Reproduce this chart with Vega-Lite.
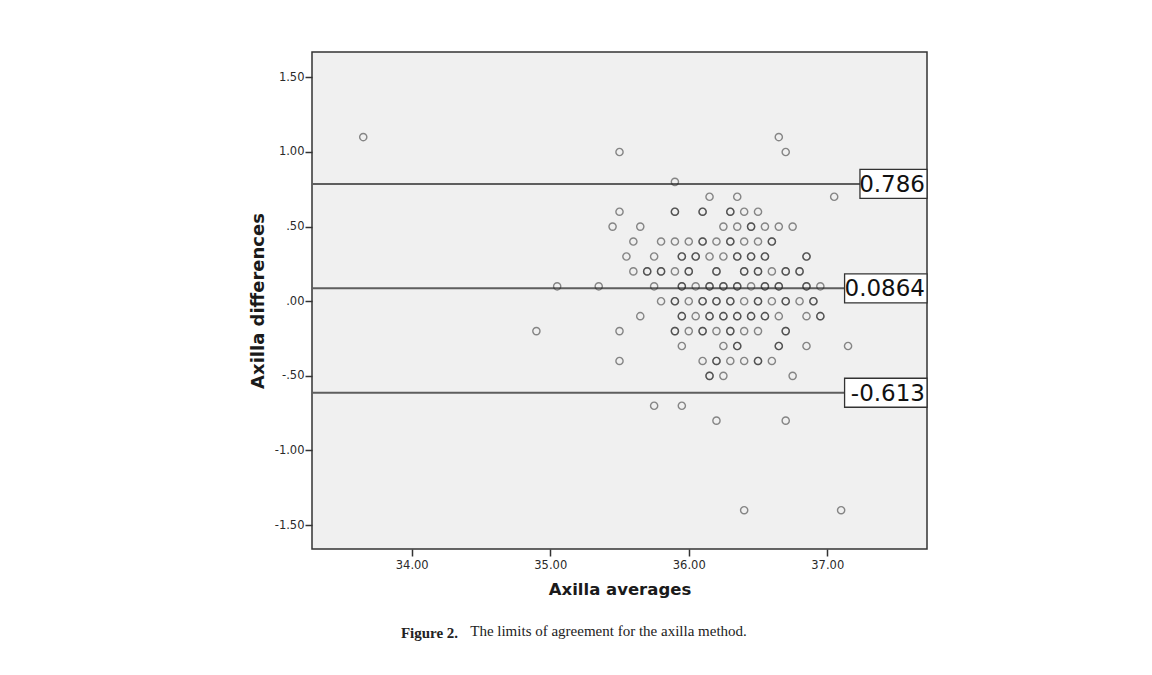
{
  "$schema": "https://vega.github.io/schema/vega-lite/v6.json",
  "width": 615,
  "height": 497,
  "autosize": {"type": "none"},
  "padding": {"left": 312, "top": 52, "right": 225, "bottom": 126},
  "background": "white",
  "config": {
    "view": {"fill": "#f0f0f0", "stroke": "#333333", "strokeWidth": 1.5},
    "axis": {
      "labelFont": "DejaVu Sans",
      "labelFontSize": 11.5,
      "labelColor": "#2a2a2a",
      "titleFont": "DejaVu Sans",
      "titleFontWeight": "bold",
      "titleFontSize": 16.5,
      "titleColor": "#1a1a1a",
      "tickColor": "#333333",
      "tickWidth": 1.5,
      "tickSize": 7,
      "domain": false,
      "grid": false
    }
  },
  "title": {
    "text": "Figure 2.",
    "subtitle": "The limits of agreement for the axilla method.",
    "orient": "bottom",
    "anchor": "middle",
    "font": "Liberation Serif",
    "fontSize": 15,
    "fontWeight": "bold",
    "color": "#222222",
    "subtitleFont": "Liberation Serif",
    "subtitleFontSize": 15,
    "subtitleFontWeight": "normal",
    "subtitleColor": "#222222",
    "subtitlePadding": -17,
    "offset": 28,
    "dx": -11,
    "encode": {"title": {"update": {"dx": {"value": -190}}}}
  },
  "datasets": {
    "points": [
      {"avg": 33.65, "diff": 1.1}, {"avg": 36.65, "diff": 1.1},
      {"avg": 35.50, "diff": 1.0}, {"avg": 36.70, "diff": 1.0},
      {"avg": 35.90, "diff": 0.8},
      {"avg": 36.15, "diff": 0.7}, {"avg": 36.35, "diff": 0.7}, {"avg": 37.05, "diff": 0.7},
      {"avg": 35.50, "diff": 0.6}, {"avg": 35.90, "diff": 0.6}, {"avg": 35.90, "diff": 0.6}, {"avg": 36.10, "diff": 0.6}, {"avg": 36.10, "diff": 0.6}, {"avg": 36.30, "diff": 0.6}, {"avg": 36.30, "diff": 0.6}, {"avg": 36.40, "diff": 0.6}, {"avg": 36.50, "diff": 0.6},
      {"avg": 35.45, "diff": 0.5}, {"avg": 35.65, "diff": 0.5}, {"avg": 36.25, "diff": 0.5}, {"avg": 36.35, "diff": 0.5}, {"avg": 36.45, "diff": 0.5}, {"avg": 36.45, "diff": 0.5}, {"avg": 36.55, "diff": 0.5}, {"avg": 36.65, "diff": 0.5}, {"avg": 36.75, "diff": 0.5},
      {"avg": 35.60, "diff": 0.4}, {"avg": 35.80, "diff": 0.4}, {"avg": 35.90, "diff": 0.4}, {"avg": 36.00, "diff": 0.4}, {"avg": 36.10, "diff": 0.4}, {"avg": 36.10, "diff": 0.4}, {"avg": 36.20, "diff": 0.4}, {"avg": 36.30, "diff": 0.4}, {"avg": 36.30, "diff": 0.4}, {"avg": 36.40, "diff": 0.4}, {"avg": 36.50, "diff": 0.4}, {"avg": 36.60, "diff": 0.4}, {"avg": 36.60, "diff": 0.4},
      {"avg": 35.55, "diff": 0.3}, {"avg": 35.75, "diff": 0.3}, {"avg": 35.95, "diff": 0.3}, {"avg": 35.95, "diff": 0.3}, {"avg": 36.05, "diff": 0.3}, {"avg": 36.05, "diff": 0.3}, {"avg": 36.15, "diff": 0.3}, {"avg": 36.25, "diff": 0.3}, {"avg": 36.35, "diff": 0.3}, {"avg": 36.35, "diff": 0.3}, {"avg": 36.45, "diff": 0.3}, {"avg": 36.45, "diff": 0.3}, {"avg": 36.55, "diff": 0.3}, {"avg": 36.55, "diff": 0.3}, {"avg": 36.85, "diff": 0.3}, {"avg": 36.85, "diff": 0.3},
      {"avg": 35.60, "diff": 0.2}, {"avg": 35.70, "diff": 0.2}, {"avg": 35.70, "diff": 0.2}, {"avg": 35.80, "diff": 0.2}, {"avg": 35.80, "diff": 0.2}, {"avg": 35.90, "diff": 0.2}, {"avg": 36.00, "diff": 0.2}, {"avg": 36.00, "diff": 0.2}, {"avg": 36.20, "diff": 0.2}, {"avg": 36.20, "diff": 0.2}, {"avg": 36.40, "diff": 0.2}, {"avg": 36.40, "diff": 0.2}, {"avg": 36.50, "diff": 0.2}, {"avg": 36.50, "diff": 0.2}, {"avg": 36.60, "diff": 0.2}, {"avg": 36.70, "diff": 0.2}, {"avg": 36.70, "diff": 0.2}, {"avg": 36.80, "diff": 0.2}, {"avg": 36.80, "diff": 0.2},
      {"avg": 35.05, "diff": 0.1}, {"avg": 35.35, "diff": 0.1}, {"avg": 35.75, "diff": 0.1}, {"avg": 35.95, "diff": 0.1}, {"avg": 35.95, "diff": 0.1}, {"avg": 36.05, "diff": 0.1}, {"avg": 36.15, "diff": 0.1}, {"avg": 36.15, "diff": 0.1}, {"avg": 36.25, "diff": 0.1}, {"avg": 36.25, "diff": 0.1}, {"avg": 36.35, "diff": 0.1}, {"avg": 36.35, "diff": 0.1}, {"avg": 36.45, "diff": 0.1}, {"avg": 36.55, "diff": 0.1}, {"avg": 36.55, "diff": 0.1}, {"avg": 36.65, "diff": 0.1}, {"avg": 36.65, "diff": 0.1}, {"avg": 36.85, "diff": 0.1}, {"avg": 36.85, "diff": 0.1}, {"avg": 36.95, "diff": 0.1},
      {"avg": 35.80, "diff": 0.0}, {"avg": 35.90, "diff": 0.0}, {"avg": 35.90, "diff": 0.0}, {"avg": 36.00, "diff": 0.0}, {"avg": 36.10, "diff": 0.0}, {"avg": 36.10, "diff": 0.0}, {"avg": 36.20, "diff": 0.0}, {"avg": 36.20, "diff": 0.0}, {"avg": 36.30, "diff": 0.0}, {"avg": 36.30, "diff": 0.0}, {"avg": 36.40, "diff": 0.0}, {"avg": 36.50, "diff": 0.0}, {"avg": 36.50, "diff": 0.0}, {"avg": 36.60, "diff": 0.0}, {"avg": 36.70, "diff": 0.0}, {"avg": 36.70, "diff": 0.0}, {"avg": 36.80, "diff": 0.0}, {"avg": 36.90, "diff": 0.0}, {"avg": 36.90, "diff": 0.0},
      {"avg": 35.65, "diff": -0.1}, {"avg": 35.95, "diff": -0.1}, {"avg": 35.95, "diff": -0.1}, {"avg": 36.05, "diff": -0.1}, {"avg": 36.15, "diff": -0.1}, {"avg": 36.15, "diff": -0.1}, {"avg": 36.25, "diff": -0.1}, {"avg": 36.25, "diff": -0.1}, {"avg": 36.35, "diff": -0.1}, {"avg": 36.35, "diff": -0.1}, {"avg": 36.45, "diff": -0.1}, {"avg": 36.45, "diff": -0.1}, {"avg": 36.55, "diff": -0.1}, {"avg": 36.55, "diff": -0.1}, {"avg": 36.65, "diff": -0.1}, {"avg": 36.85, "diff": -0.1}, {"avg": 36.95, "diff": -0.1}, {"avg": 36.95, "diff": -0.1},
      {"avg": 34.90, "diff": -0.2}, {"avg": 35.50, "diff": -0.2}, {"avg": 35.90, "diff": -0.2}, {"avg": 35.90, "diff": -0.2}, {"avg": 36.00, "diff": -0.2}, {"avg": 36.10, "diff": -0.2}, {"avg": 36.10, "diff": -0.2}, {"avg": 36.20, "diff": -0.2}, {"avg": 36.30, "diff": -0.2}, {"avg": 36.30, "diff": -0.2}, {"avg": 36.40, "diff": -0.2}, {"avg": 36.50, "diff": -0.2}, {"avg": 36.70, "diff": -0.2}, {"avg": 36.70, "diff": -0.2},
      {"avg": 35.95, "diff": -0.3}, {"avg": 36.25, "diff": -0.3}, {"avg": 36.35, "diff": -0.3}, {"avg": 36.35, "diff": -0.3}, {"avg": 36.65, "diff": -0.3}, {"avg": 36.65, "diff": -0.3}, {"avg": 36.85, "diff": -0.3}, {"avg": 37.15, "diff": -0.3},
      {"avg": 35.50, "diff": -0.4}, {"avg": 36.10, "diff": -0.4}, {"avg": 36.20, "diff": -0.4}, {"avg": 36.20, "diff": -0.4}, {"avg": 36.30, "diff": -0.4}, {"avg": 36.40, "diff": -0.4}, {"avg": 36.50, "diff": -0.4}, {"avg": 36.50, "diff": -0.4}, {"avg": 36.60, "diff": -0.4},
      {"avg": 36.15, "diff": -0.5}, {"avg": 36.15, "diff": -0.5}, {"avg": 36.25, "diff": -0.5}, {"avg": 36.75, "diff": -0.5},
      {"avg": 35.75, "diff": -0.7}, {"avg": 35.95, "diff": -0.7},
      {"avg": 36.20, "diff": -0.8}, {"avg": 36.70, "diff": -0.8},
      {"avg": 36.40, "diff": -1.4}, {"avg": 37.10, "diff": -1.4}
    ],
    "limits": [
      {"label": "0.786", "value": 0.786},
      {"label": "0.0864", "value": 0.0864},
      {"label": "-0.613", "value": -0.613}
    ]
  },
  "layer": [
    {
      "data": {"name": "limits"},
      "mark": {"type": "rule", "color": "#5e5e5e", "strokeWidth": 2},
      "encoding": {
        "y": {"field": "value", "type": "quantitative", "scale": {"domain": [-1.66, 1.67], "nice": false, "zero": false}}
      }
    },
    {
      "data": {"name": "points"},
      "mark": {"type": "point", "shape": "circle", "filled": false, "size": 52, "stroke": "#262626", "strokeWidth": 1.4, "strokeOpacity": 0.75},
      "encoding": {
        "x": {
          "field": "avg", "type": "quantitative",
          "scale": {"domain": [33.28, 37.72], "nice": false, "zero": false},
          "axis": {"values": [34, 35, 36, 37], "format": ".2f", "title": "Axilla averages", "labelPadding": 3, "titlePadding": 11}
        },
        "y": {
          "field": "diff", "type": "quantitative",
          "scale": {"domain": [-1.66, 1.67], "nice": false, "zero": false},
          "axis": {
            "values": [-1.5, -1, -0.5, 0, 0.5, 1, 1.5],
            "labelExpr": "(datum.value < 0 ? '-' : '') + (abs(datum.value) < 1 ? slice(format(abs(datum.value), '.2f'), 1) : format(abs(datum.value), '.2f'))",
            "title": "Axilla differences",
            "titleFontSize": 18,
            "labelPadding": 1,
            "titlePadding": 7
          }
        }
      }
    },
    {
      "data": {"name": "limits"},
      "transform": [{"filter": "datum.label == '0.786'"}],
      "mark": {"type": "rect", "height": 29, "fill": "white", "stroke": "#333333", "strokeWidth": 1.3},
      "encoding": {
        "x": {"datum": 37.236, "type": "quantitative"},
        "x2": {"datum": 37.72},
        "y": {"field": "value", "type": "quantitative"}
      }
    },
    {
      "data": {"name": "limits"},
      "transform": [{"filter": "datum.label != '0.786'"}],
      "mark": {"type": "rect", "height": 29, "fill": "white", "stroke": "#333333", "strokeWidth": 1.3},
      "encoding": {
        "x": {"datum": 37.125, "type": "quantitative"},
        "x2": {"datum": 37.72},
        "y": {"field": "value", "type": "quantitative"}
      }
    },
    {
      "data": {"name": "limits"},
      "mark": {"type": "text", "align": "right", "baseline": "middle", "dx": -2, "dy": 1, "font": "DejaVu Sans", "fontSize": 23, "color": "#111111"},
      "encoding": {
        "x": {"datum": 37.72, "type": "quantitative"},
        "y": {"field": "value", "type": "quantitative"},
        "text": {"field": "label"}
      }
    }
  ]
}
